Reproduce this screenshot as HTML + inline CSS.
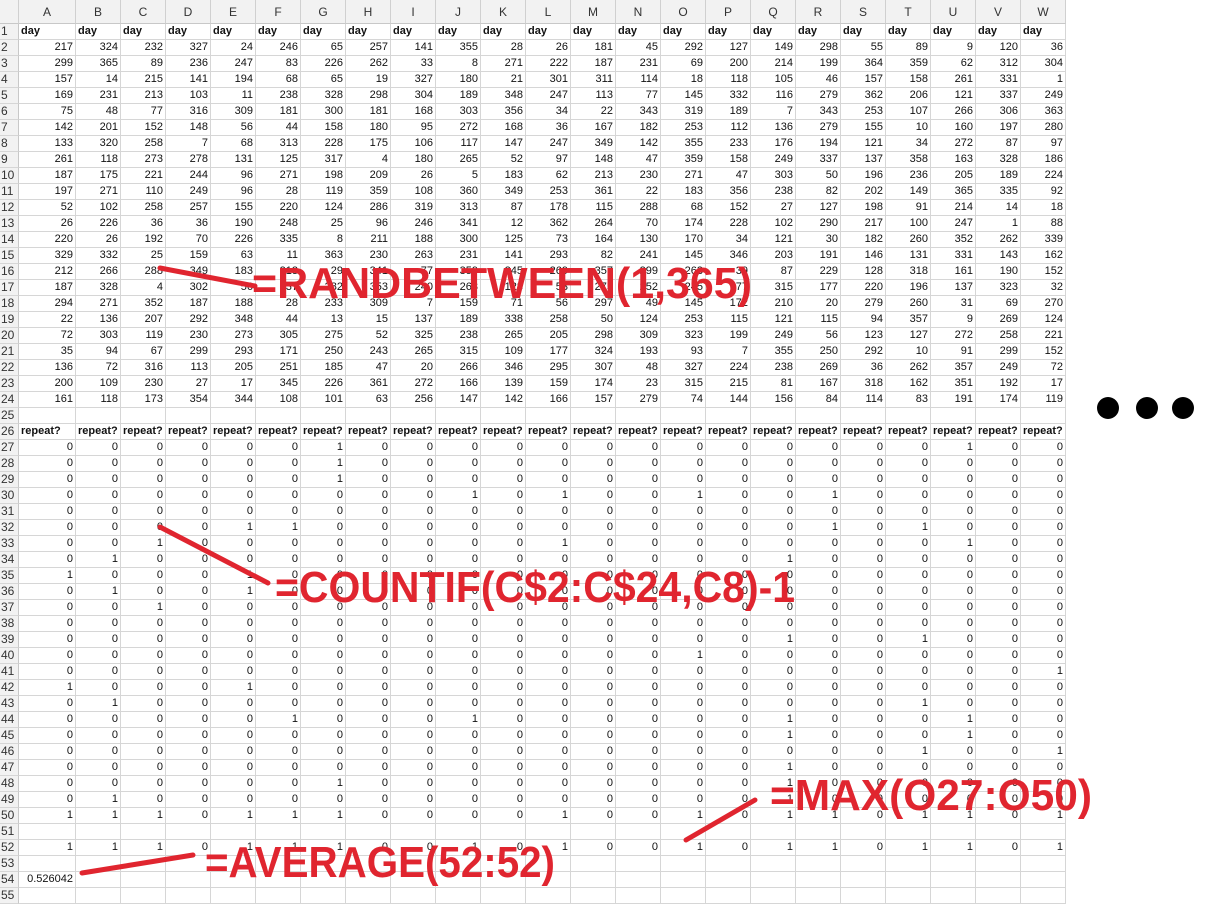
<!DOCTYPE html>
<html><head><meta charset="utf-8">
<style>
body{margin:0;width:1211px;height:892px;overflow:hidden;background:#fff;position:relative;font-family:"Liberation Sans",sans-serif;}
.c{position:absolute;box-sizing:border-box;border-right:1px solid #d6d6d6;border-bottom:1px solid #d6d6d6;font-size:11px;line-height:15px;color:#111;white-space:nowrap;overflow:visible;padding:0 2px;text-align:right;}
.h{background:#f2f2f2;color:#333;text-align:center;font-size:12px;line-height:24px;border-right:1px solid #d0d0d0;border-bottom:1px solid #c8c8c8;}
.rh{background:#f2f2f2;color:#333;text-align:left;font-size:12px;border-right:1px solid #c8c8c8;border-bottom:1px solid #d6d6d6;padding-left:1px;}
.b{font-weight:bold;text-align:left;}
</style></head>
<body>
<div id="grid"></div>
<svg id="ann" width="1211" height="892" style="position:absolute;left:0;top:0">
<g stroke="#e0252f" stroke-width="5" stroke-linecap="round">
<line x1="160" y1="268" x2="255" y2="286"/>
<line x1="160" y1="527" x2="268" y2="583"/>
<line x1="686" y1="840" x2="755" y2="800"/>
<line x1="82" y1="873" x2="193" y2="855"/>
</g>
<g fill="#e0252f" font-family="Liberation Sans, sans-serif" font-weight="bold" font-size="44">
<text x="252" y="298" textLength="500" lengthAdjust="spacingAndGlyphs">=RANDBETWEEN(1,365)</text>
<text x="275" y="602" textLength="520" lengthAdjust="spacingAndGlyphs">=COUNTIF(C$2:C$24,C8)-1</text>
<text x="770" y="810" textLength="322" lengthAdjust="spacingAndGlyphs">=MAX(O27:O50)</text>
<text x="205" y="877" textLength="350" lengthAdjust="spacingAndGlyphs">=AVERAGE(52:52)</text>
</g>
<g fill="#000">
<circle cx="1108" cy="408" r="11"/>
<circle cx="1147" cy="408" r="11"/>
<circle cx="1183" cy="408" r="11"/>
</g>
</svg>
<script>
const cols="ABCDEFGHIJKLMNOPQRSTUVW".split("");
const days=[
[217,324,232,327,24,246,65,257,141,355,28,26,181,45,292,127,149,298,55,89,9,120,36],
[299,365,89,236,247,83,226,262,33,8,271,222,187,231,69,200,214,199,364,359,62,312,304],
[157,14,215,141,194,68,65,19,327,180,21,301,311,114,18,118,105,46,157,158,261,331,1],
[169,231,213,103,11,238,328,298,304,189,348,247,113,77,145,332,116,279,362,206,121,337,249],
[75,48,77,316,309,181,300,181,168,303,356,34,22,343,319,189,7,343,253,107,266,306,363],
[142,201,152,148,56,44,158,180,95,272,168,36,167,182,253,112,136,279,155,10,160,197,280],
[133,320,258,7,68,313,228,175,106,117,147,247,349,142,355,233,176,194,121,34,272,87,97],
[261,118,273,278,131,125,317,4,180,265,52,97,148,47,359,158,249,337,137,358,163,328,186],
[187,175,221,244,96,271,198,209,26,5,183,62,213,230,271,47,303,50,196,236,205,189,224],
[197,271,110,249,96,28,119,359,108,360,349,253,361,22,183,356,238,82,202,149,365,335,92],
[52,102,258,257,155,220,124,286,319,313,87,178,115,288,68,152,27,127,198,91,214,14,18],
[26,226,36,36,190,248,25,96,246,341,12,362,264,70,174,228,102,290,217,100,247,1,88],
[220,26,192,70,226,335,8,211,188,300,125,73,164,130,170,34,121,30,182,260,352,262,339],
[329,332,25,159,63,11,363,230,263,231,141,293,82,241,145,346,203,191,146,131,331,143,162],
[212,266,288,349,183,213,29,341,77,359,245,269,357,299,263,39,87,229,128,318,161,190,152],
[187,328,4,302,56,37,282,353,240,263,128,53,275,252,245,77,315,177,220,196,137,323,32],
[294,271,352,187,188,28,233,309,7,159,71,56,297,49,145,172,210,20,279,260,31,69,270],
[22,136,207,292,348,44,13,15,137,189,338,258,50,124,253,115,121,115,94,357,9,269,124],
[72,303,119,230,273,305,275,52,325,238,265,205,298,309,323,199,249,56,123,127,272,258,221],
[35,94,67,299,293,171,250,243,265,315,109,177,324,193,93,7,355,250,292,10,91,299,152],
[136,72,316,113,205,251,185,47,20,266,346,295,307,48,327,224,238,269,36,262,357,249,72],
[200,109,230,27,17,345,226,361,272,166,139,159,174,23,315,215,81,167,318,162,351,192,17],
[161,118,173,354,344,108,101,63,256,147,142,166,157,279,74,144,156,84,114,83,191,174,119]];
const ones={27:"GU",28:"G",29:"G",30:"JLOR",31:"",32:"EFRT",33:"CLU",34:"BQ",35:"AE",36:"BE",37:"C",38:"",39:"QT",40:"O",41:"W",42:"AE",43:"BT",44:"FJQU",45:"QU",46:"TW",47:"Q",48:"GQ",49:"BQ",50:"ABCEFGLOQRTUW"};
const maxRow=[1,1,1,0,1,1,1,0,0,1,0,1,0,0,1,0,1,1,0,1,1,0,1];
const avgVal="0.526042";
const g=document.getElementById('grid');
function colX(i){return i===0?19:76+(i-1)*45;}
function colW(i){return i===0?57:45;}
function rowY(r){return 24+(r-1)*16;}
function cell(x,y,w,h,txt,cls,name){const d=document.createElement('div');d.className='c '+(cls||'');d.style.left=x+'px';d.style.top=y+'px';d.style.width=w+'px';d.style.height=h+'px';d.textContent=txt;


g.appendChild(d);}
cell(0,0,19,24,'','h','select-all');
cols.forEach((c,i)=>cell(colX(i),0,colW(i),24,c,'h','col-header-'+c));
for(let r=1;r<=55;r++){
  const y=rowY(r);
  cell(0,y,19,16,String(r),'rh','row-header-'+r);
  cols.forEach((c,i)=>{
    let t='',cls='';
    if(r===1){t='day';cls='b';}
    else if(r>=2&&r<=24){t=String(days[r-2][i]);}
    else if(r===26){t='repeat?';cls='b';}
    else if(r>=27&&r<=50){t=ones[r].includes(c)?'1':'0';}
    else if(r===52){t=String(maxRow[i]);}
    else if(r===54&&i===0){t=avgVal;}
    cell(colX(i),y,colW(i),16,t,cls,'cell-'+c+r);
  });
}
</script>
</body></html>
